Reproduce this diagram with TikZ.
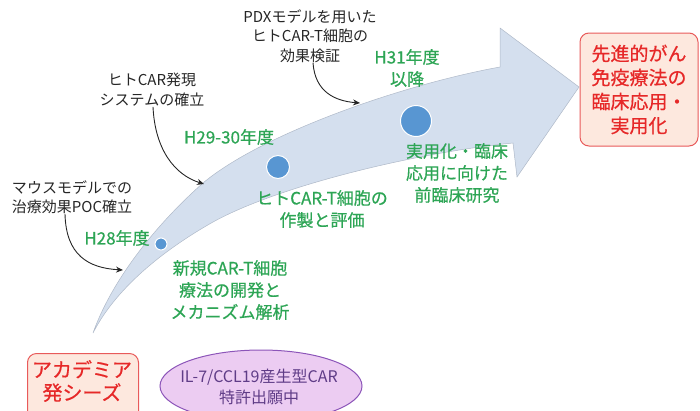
\documentclass[tikz,border=0pt]{standalone}
\usepackage{fontspec}
\setmainfont{Noto Sans CJK JP}
\newfontfamily\semibold{Noto Sans CJK JP}[FakeBold=0.6]
\usetikzlibrary{arrows.meta,shapes.geometric}
\definecolor{arrowfill}{RGB}{212,223,238}
\definecolor{arrowline}{RGB}{175,185,200}
\definecolor{dotblue}{RGB}{88,150,210}
\definecolor{txtgreen}{RGB}{45,165,85}
\definecolor{txtred}{RGB}{230,40,40}
\definecolor{boxred}{RGB}{232,90,90}
\definecolor{boxfill}{RGB}{253,232,222}
\definecolor{elfill}{RGB}{236,204,242}
\definecolor{elline}{RGB}{140,85,185}
\definecolor{eltext}{RGB}{95,60,135}
\tikzset{
  callout/.style={text=black!85, align=center, font=\fontsize{15}{19.5}\selectfont, inner sep=0pt},
  glabel/.style={text=txtgreen, align=center, font=\semibold\fontsize{17}{22}\selectfont, inner sep=0pt},
  calloutline/.style={draw=black!85, line width=0.9pt, -{Stealth[length=7pt,width=6pt]}},
  dot/.style={circle, fill=dotblue, draw=white, line width=1pt, inner sep=0pt},
  redbox/.style={draw=boxred, fill=boxfill, rounded corners=9pt, line width=1pt, text=txtred, align=center},
}
\begin{document}
\begin{tikzpicture}[x=1pt,y=-1pt]
\useasboundingbox (0,0) rectangle (700,410);
\clip (0,0) rectangle (700,410);
% big curved arrow
\draw[fill=arrowfill, draw=arrowline, line width=0.5pt]
  (93,333) .. controls (110,285) and (150,230) .. (203,183)
  .. controls (260,135) and (400,85) .. (500,67)
  -- (500,28) -- (579,87) -- (517,177) -- (513,143)
  .. controls (420,152) and (280,185) .. (213,222)
  .. controls (160,252) and (115,290) .. (93,333) -- cycle;
% dots
\node[dot, minimum size=12pt] (d1) at (161,244) {};
\node[dot, minimum size=23pt] (d2) at (278,167) {};
\node[dot, minimum size=31pt] (d3) at (416,121) {};
% green labels
\node[glabel] (g28) at (117,238) {H28年度};
\node[glabel] (g29) at (229,137) {H29-30年度};
\node[glabel] (g31) at (407,68) {H31年度\\以降};
\node[glabel] (gt1) at (230,290) {新規CAR-T細胞\\療法の開発と\\メカニズム解析};
\node[glabel] (gt2) at (322,209) {ヒトCAR-T細胞の\\作製と評価};
\node[glabel] (gt3) at (457,173) {実用化・臨床\\応用に向けた\\前臨床研究};
% callouts
\node[callout] (c1) at (72,197) {マウスモデルでの\\治療効果POC確立};
\node[callout] (c2) at (152,90) {ヒトCAR発現\\システムの確立};
\node[callout] (c3) at (310,36) {PDXモデルを用いた\\ヒトCAR-T細胞の\\効果検証};
\coordinate (a1) at (123,270);
\coordinate (a2) at (204,184);
\coordinate (a3) at (360,103);
\draw[calloutline] (c1.south -| 65,0) .. controls (66,255) and (88,268) .. (a1);
\draw[calloutline] (c2.south -| 153,0) .. controls (155,150) and (175,175) .. (a2);
\draw[calloutline] (c3.south -| 313,0) .. controls (315,92) and (335,101) .. (a3);
% goal box
\node[redbox, minimum width=118pt, minimum height=113pt, font=\semibold\fontsize{19}{24}\selectfont, inner sep=2pt] (goal) at (639,89.5) {先進的がん\\免疫療法の\\臨床応用・\\実用化};
% seeds box
\node[redbox, minimum width=111pt, minimum height=70pt, anchor=north west, inner sep=0pt] (seed) at (27,353) {};
\node[text=txtred, align=center, font=\semibold\fontsize{20}{23}\selectfont, inner sep=0pt] (seedtxt) at (82,381) {アカデミア\\発シーズ};
% patent ellipse
\node[ellipse, draw=elline, fill=elfill, line width=1pt, minimum width=202pt, minimum height=72pt, inner sep=0pt] (pat) at (261,386) {};
\node[text=eltext, align=center, font=\fontsize{16}{21}\selectfont, inner sep=0pt] (pattxt) at (259,387) {IL-7/CCL19産生型CAR\\特許出願中};
\end{tikzpicture}
\end{document}
